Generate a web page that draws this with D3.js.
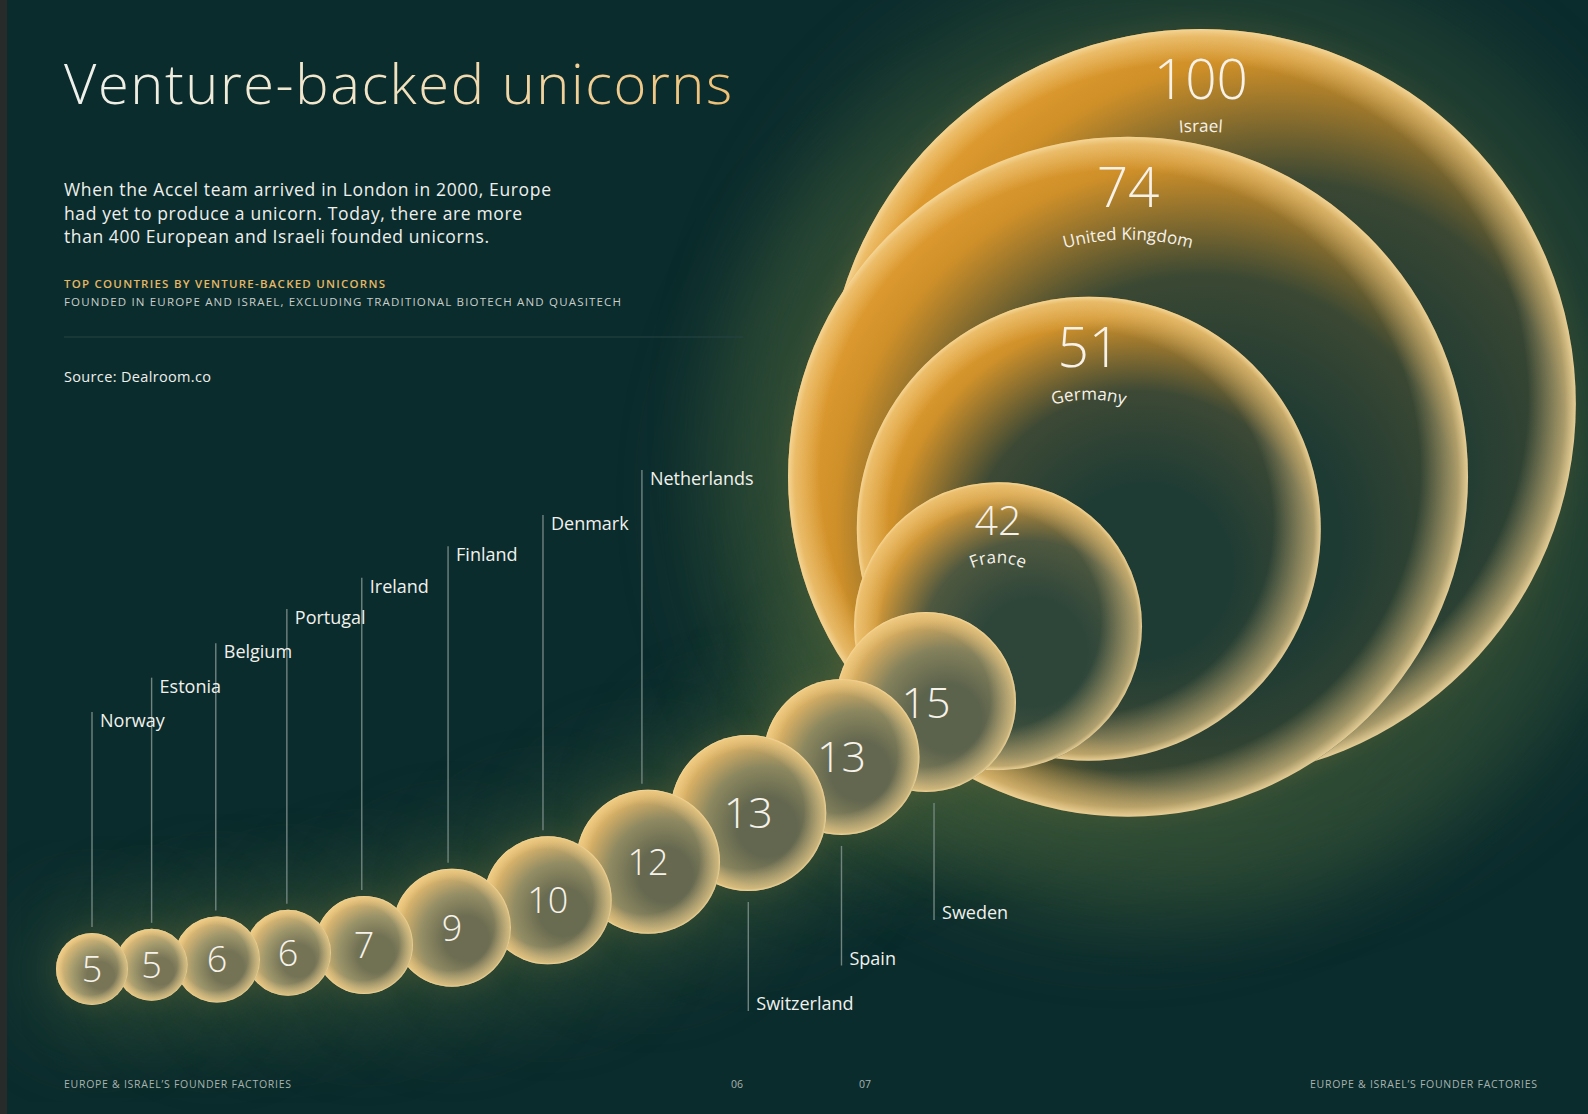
<!DOCTYPE html>
<html><head><meta charset="utf-8">
<script src="https://cdn.jsdelivr.net/npm/d3@7"></script>
<style>
html,body{margin:0;padding:0;background:#0b2c2d;overflow:hidden}
svg{display:block}
text{font-family:'Open Sans',sans-serif}
</style></head><body>
<svg id="chart" width="1588" height="1114"></svg>
<script>
// ---------- DATA ----------
const countries = ["Norway","Estonia","Belgium","Portugal","Ireland","Finland","Denmark","Netherlands",
                   "Switzerland","Spain","Sweden","France","Germany","United Kingdom","Israel"];
const values    = [5,5,6,6,7,9,10,12,13,13,15,42,51,74,100];
const titleText = "Venture-backed unicorns";
const introLines = ["When the Accel team arrived in London in 2000, Europe",
                    "had yet to produce a unicorn. Today, there are more",
                    "than 400 European and Israeli founded unicorns."];
const kickerText = "TOP COUNTRIES BY VENTURE-BACKED UNICORNS";
const subKickerText = "FOUNDED IN EUROPE AND ISRAEL, EXCLUDING TRADITIONAL BIOTECH AND QUASITECH";
const sourceText = "Source: Dealroom.co";
const footerText = "EUROPE & ISRAEL\u2019S FOUNDER FACTORIES";
const pageNumbers = ["06","07"];

// ---------- LAYOUT ----------
const W = 1588, H = 1114, margin = 64;
const nAbove = 8, nBelow = 3;            // label placement groups along the chain
const svg = d3.select("#chart");
const defs = svg.append("defs");

const rScale = d3.scaleLinear()
  .domain([5,6,7,9,10,12,13,15,42,51,74,100])
  .range([36,43,49,59,64,72,78,90,144,232,340,375]);
const stepAngle = d3.scaleLinear().domain([0,3,4,8,9,10,11,12,13]).range([4,6,11,31,33,46.5,47,53,45]);
const stepOverlap = d3.scaleLinear().domain([0,4,6,8,9,10,11,12,13]).range([.83,.83,.79,.697,.6,.447,.354,.114,.144]);
const numSize = d3.scaleThreshold().domain([13,42,51]).range([36,43,41,55]);
const chainBottom = 1005;

const nodes = countries.map((name,i)=>({name, value:values[i], r:rScale(values[i]), i}));
nodes.forEach((d,i)=>{
  if(i===0){ d.x = margin - 8 + d.r; d.y = chainBottom - d.r; return; }
  const p = nodes[i-1];
  const dist = (p.r + d.r) * stepOverlap(i-1);
  const a = stepAngle(i-1) * Math.PI/180;
  d.x = p.x + dist*Math.cos(a);
  d.y = p.y - dist*Math.sin(a);
});

// ---------- BACKGROUND ----------
svg.append("rect").attr("width",W).attr("height",H).attr("fill","#0b2c2d");
const blur = defs.append("filter").attr("id","glowBlur").attr("x","-50%").attr("y","-50%").attr("width","200%").attr("height","200%");
blur.append("feGaussianBlur").attr("stdDeviation",40);
const blurS = defs.append("filter").attr("id","glowBlurS").attr("x","-50%").attr("y","-50%").attr("width","200%").attr("height","200%");
blurS.append("feGaussianBlur").attr("stdDeviation",12);

const glow = svg.append("g");
glow.selectAll("circle.g1").data(nodes).join("circle")
  .attr("cx",d=>d.x).attr("cy",d=>d.y+d.r*0.06).attr("r",d=>d.r*1.2+22)
  .attr("fill","#3e5837").attr("opacity",0.42).attr("filter","url(#glowBlur)");
glow.selectAll("circle.g2").data(nodes).join("circle")
  .attr("cx",d=>d.x).attr("cy",d=>d.y).attr("r",d=>d.r+4)
  .attr("fill","#6e6a38").attr("opacity",0.22).attr("filter","url(#glowBlurS)");

svg.append("rect").attr("x",0).attr("y",0).attr("width",7).attr("height",H).attr("fill","#272c2b");

// ---------- TITLE BLOCK ----------
const tg = defs.append("linearGradient").attr("id","titleGrad").attr("gradientUnits","userSpaceOnUse")
  .attr("x1",margin).attr("x2",732).attr("y1",0).attr("y2",0);
tg.append("stop").attr("offset",0).attr("stop-color","#eef1ec");
tg.append("stop").attr("offset",0.45).attr("stop-color","#f2e4c6");
tg.append("stop").attr("offset",1).attr("stop-color","#efc074");
svg.append("text").attr("x",margin).attr("y",104).attr("font-size",56).attr("font-weight",300)
  .attr("fill","url(#titleGrad)").attr("textLength",668).attr("lengthAdjust","spacing").text(titleText);

const introW = [487,458,425];
svg.selectAll("text.intro").data(introLines).join("text").attr("class","intro")
  .attr("x",margin).attr("y",(d,i)=>196+i*23.5).attr("font-size",17.5).attr("fill","#eef0ec")
  .attr("textLength",(d,i)=>introW[i]).attr("lengthAdjust","spacing").text(d=>d);
svg.append("text").attr("x",margin).attr("y",288).attr("font-size",11.5).attr("font-weight",600)
  .attr("fill","#e4b865").attr("textLength",321).attr("lengthAdjust","spacing").text(kickerText);
svg.append("text").attr("x",margin).attr("y",306).attr("font-size",11.5).attr("font-weight",500)
  .attr("fill","#c8cfcb").attr("textLength",557).attr("lengthAdjust","spacing").text(subKickerText);
svg.append("line").attr("x1",margin).attr("x2",743).attr("y1",337).attr("y2",337)
  .attr("stroke","#264545").attr("stroke-width",1.2);
svg.append("text").attr("x",margin).attr("y",382).attr("font-size",14.5).attr("fill","#eef0ec")
  .attr("textLength",147).attr("lengthAdjust","spacing").text(sourceText);

// ---------- FOOTER ----------
const foot = svg.append("g").attr("font-size",10.5).attr("font-weight",500).attr("fill","#a9b3ae");
foot.append("text").attr("x",margin).attr("y",1088).attr("textLength",227).attr("lengthAdjust","spacing").text(footerText);
foot.append("text").attr("x",1537).attr("y",1088).attr("text-anchor","end").attr("textLength",227).attr("lengthAdjust","spacing").text(footerText);
foot.selectAll("text.pn").data(pageNumbers).join("text").attr("class","pn")
  .attr("x",(d,i)=>[737,865][i]).attr("y",1088).attr("text-anchor","middle").text(d=>d);

// ---------- LEADER LINES ----------
const tierAbove = d3.scaleLinear().domain([0,3,6,7]).range([712,609,515,470]);
const tierBelow = d3.scaleLinear().domain([8,10]).range([1011,920]);
const lines = svg.append("g");
const above = nodes.slice(0,nAbove);
const below = nodes.slice(nAbove,nAbove+nBelow);
above.forEach(d=>{ d.lx = d.x - Math.max(0,d.r-36)*0.17; d.ly = tierAbove(d.i); });
below.forEach(d=>{ d.lx = d.x + (d.i===10?8:0); d.ly = tierBelow(d.i); });
lines.selectAll("line.a").data(above).join("line")
  .attr("x1",d=>d.lx).attr("x2",d=>d.lx).attr("y1",d=>d.ly).attr("y2",d=>d.y-d.r-6)
  .attr("stroke","#71847f").attr("stroke-width",1.4);
lines.selectAll("line.b").data(below).join("line")
  .attr("x1",d=>d.lx).attr("x2",d=>d.lx).attr("y1",d=>d.y+d.r+11).attr("y2",d=>d.ly)
  .attr("stroke","#71847f").attr("stroke-width",1.4);
lines.selectAll("text.a").data(above).join("text")
  .attr("x",d=>d.lx+8).attr("y",d=>d.ly+15).attr("font-size",18).attr("fill","#f1f1ec").text(d=>d.name);
lines.selectAll("text.b").data(below).join("text")
  .attr("x",d=>d.lx+8).attr("y",d=>d.ly-1).attr("font-size",18).attr("fill","#f1f1ec").text(d=>d.name);

// ---------- BUBBLES ----------
const tScale = d3.scaleLinear().domain([36,90,144,232,375]).range([0,0.3,0.8,0.97,1]).clamp(true);
const cCenter = d3.interpolateRgb("#787557","#1c3a33");
const cMid    = d3.interpolateRgb("#a39a6d","#3a4733");
const cOuter  = d3.interpolateRgb("#d6b776","#d09028");
const cEdge   = d3.interpolateRgb("#efca80","#e7a235");

nodes.forEach(d=>{
  const t = tScale(d.r);
  const g = defs.append("radialGradient").attr("id","base"+d.i)
    .attr("cx",0.6).attr("cy",0.57).attr("r",0.63).attr("fx",0.63).attr("fy",0.6);
  g.append("stop").attr("offset",0).attr("stop-color",cCenter(t));
  g.append("stop").attr("offset",0.3).attr("stop-color",cCenter(t));
  g.append("stop").attr("offset",0.6).attr("stop-color",cMid(t));
  g.append("stop").attr("offset",0.85).attr("stop-color",cOuter(t));
  g.append("stop").attr("offset",1).attr("stop-color",cEdge(t));
  const band = 1 - Math.min(0.24, 40/d.r);
  const rg = defs.append("radialGradient").attr("id","rim"+d.i).attr("cx",0.5).attr("cy",0.5).attr("r",0.5)
    .attr("fx",0.4).attr("fy",0.42);
  rg.append("stop").attr("offset",0).attr("stop-color","#f3d290").attr("stop-opacity",0);
  rg.append("stop").attr("offset",band).attr("stop-color","#f3d290").attr("stop-opacity",0);
  rg.append("stop").attr("offset",0.975).attr("stop-color","#f3d28e").attr("stop-opacity",0.6);
  rg.append("stop").attr("offset",1).attr("stop-color","#f6dba1").attr("stop-opacity",0.9);
});

const drawOrder = nodes.slice().sort((a,b)=>b.r-a.r || b.i-a.i);
const bub = svg.append("g").selectAll("g").data(drawOrder).join("g");
bub.append("circle").attr("cx",d=>d.x).attr("cy",d=>d.y).attr("r",d=>d.r).attr("fill",d=>`url(#base${d.i})`);
bub.append("circle").attr("cx",d=>d.x).attr("cy",d=>d.y).attr("r",d=>d.r).attr("fill",d=>`url(#rim${d.i})`);

// ---------- BUBBLE TEXT ----------
const inside = nodes.slice(nAbove+nBelow);
const chain = nodes.slice(0,nAbove+nBelow);
const txt = svg.append("g").attr("fill","#f6f2ea");
txt.selectAll("text.cn").data(chain).join("text")
  .attr("x",d=>d.x).attr("y",d=>d.y).attr("text-anchor","middle").attr("dy","0.36em")
  .attr("font-size",d=>numSize(d.value)).attr("font-weight",300).text(d=>d.value);
inside.forEach(d=>{
  const fs = numSize(d.value);
  const numY = d.y - d.r + fs*1.28;
  txt.append("text").attr("x",d.x).attr("y",numY).attr("text-anchor","middle")
    .attr("font-size",fs).attr("font-weight",300).text(d.value);
  const R = d.y - (numY + fs*0.3 + 16);
  const a0 = -Math.PI/2 - 0.9, a1 = -Math.PI/2 + 0.9;
  defs.append("path").attr("id","arc"+d.i)
    .attr("d",`M${d.x+R*Math.cos(a0)},${d.y+R*Math.sin(a0)} A${R},${R} 0 0 1 ${d.x+R*Math.cos(a1)},${d.y+R*Math.sin(a1)}`);
  txt.append("text").attr("font-size",17).attr("font-weight",400)
    .append("textPath").attr("href","#arc"+d.i).attr("startOffset","50%").attr("text-anchor","middle").text(d.name);
});
</script>
</body></html>
